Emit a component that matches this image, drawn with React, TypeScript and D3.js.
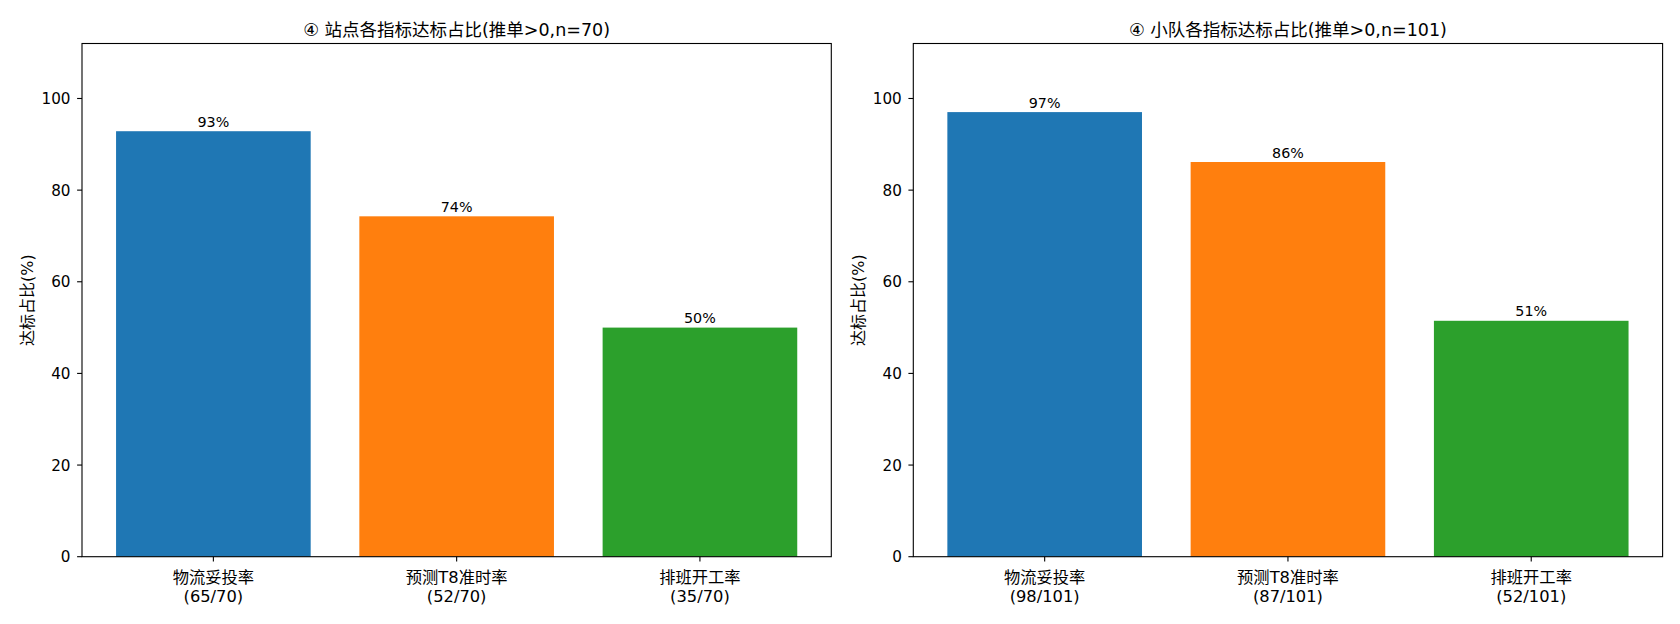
import React from 'react';
import * as d3 from 'd3';

const metrics = ['物流妥投率', '预测T8准时率', '排班开工率'];
const colors = ['#1f77b4', '#ff7f0e', '#2ca02c'];

const stationHits = [65, 52, 35];
const stationTotal = 70;
const teamHits = [98, 87, 52];
const teamTotal = 101;

const yTicks = [0, 20, 40, 60, 80, 100];
const yMax = 112;

const FONT = '"DejaVu Sans", "Noto Sans CJK SC", sans-serif';

const W = 1680;
const H = 624;
const top = 43.5;
const bottom = 556.7;
const panelW = 749.3;
const panelLefts = [82, 913.3];

interface PanelProps {
    left: number;
    title: string;
    hits: number[];
    total: number;
}

const Panel: React.FC<PanelProps> = ({ left, title, hits, total }) => {
    const x = d3.scaleLinear().domain([-0.54, 2.54]).range([left, left + panelW]);
    const y = d3.scaleLinear().domain([0, yMax]).range([bottom, top]);
    const barW = x(0.8) - x(0);

    return (
        <g>
            <text x={left + panelW / 2} y={36} textAnchor="middle" fontSize={17.5} fontFamily={FONT} fill="#000">
                {title}
            </text>
            {hits.map((h, i) => {
                const v = (h / total) * 100;
                const cx = x(i);
                return (
                    <g key={metrics[i]}>
                        <rect x={cx - barW / 2} y={y(v)} width={barW} height={bottom - y(v)} fill={colors[i]} />
                        <text x={cx} y={y(v) - 4.5} textAnchor="middle" fontSize={14.3} fontFamily={FONT} fill="#000">
                            {d3.format('.0f')(v)}%
                        </text>
                        <line x1={cx} x2={cx} y1={bottom} y2={bottom + 4.9} stroke="#000" strokeWidth={1.1} />
                        <text x={cx} y={583} textAnchor="middle" fontSize={16.3} fontFamily={FONT} fill="#000">
                            {metrics[i]}
                        </text>
                        <text x={cx} y={601.5} textAnchor="middle" fontSize={16.3} fontFamily={FONT} fill="#000">
                            ({h}/{total})
                        </text>
                    </g>
                );
            })}
            {yTicks.map((t) => (
                <g key={t}>
                    <line x1={left - 4.9} x2={left} y1={y(t)} y2={y(t)} stroke="#000" strokeWidth={1.1} />
                    <text x={left - 11.5} y={y(t)} dy="0.36em" textAnchor="end" fontSize={15.2} fontFamily={FONT} fill="#000">
                        {t}
                    </text>
                </g>
            ))}
            <text
                transform={`translate(${left - 49},${(top + bottom) / 2}) rotate(-90)`}
                textAnchor="middle"
                fontSize={16}
                fontFamily={FONT}
                fill="#000"
            >
                达标占比(%)
            </text>
            <rect x={left} y={top} width={panelW} height={bottom - top} fill="none" stroke="#000" strokeWidth={1.1} />
        </g>
    );
};

export default function App() {
    return (
        <svg width={W} height={H} style={{ position: 'absolute', left: 0, top: 0, background: '#fff' }}>
            <rect width={W} height={H} fill="#fff" />
            <Panel left={panelLefts[0]} title={`④ 站点各指标达标占比(推单>0,n=${stationTotal})`} hits={stationHits} total={stationTotal} />
            <Panel left={panelLefts[1]} title={`④ 小队各指标达标占比(推单>0,n=${teamTotal})`} hits={teamHits} total={teamTotal} />
        </svg>
    );
}
